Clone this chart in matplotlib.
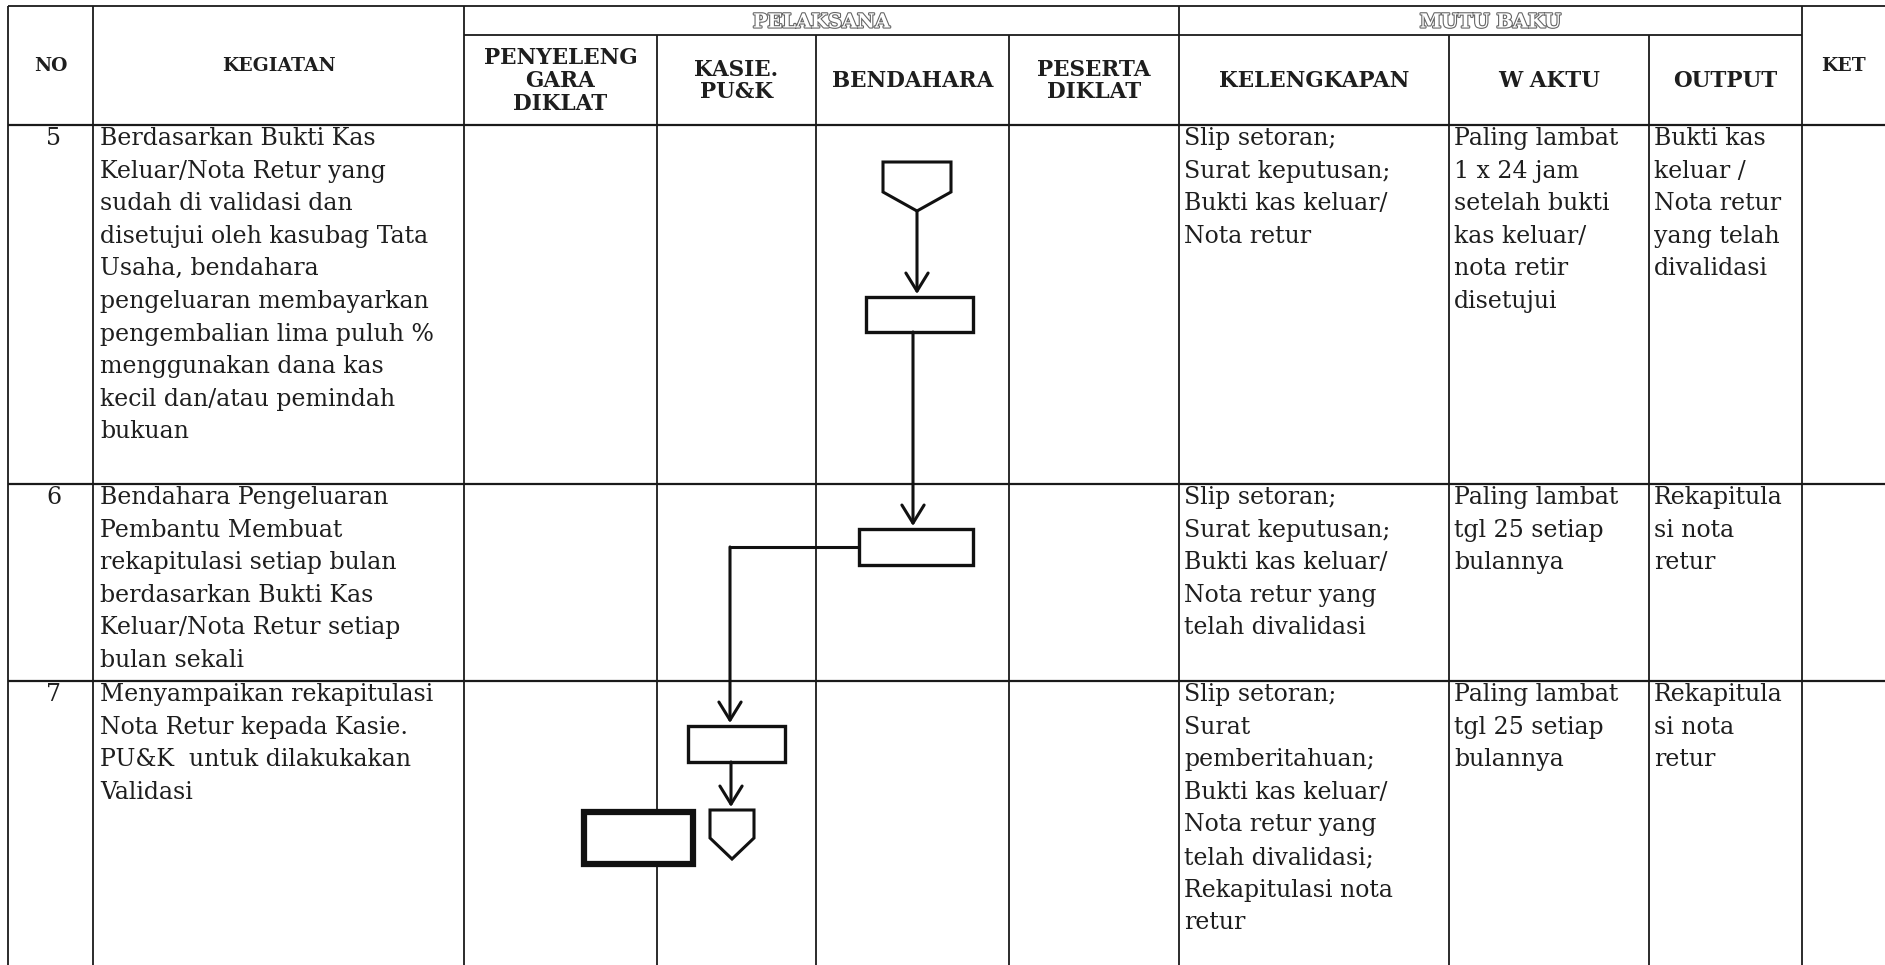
import matplotlib
matplotlib.use('Agg')
import matplotlib.pyplot as plt
import matplotlib.patheffects as pe
from matplotlib.patches import Polygon, Rectangle

# ---- table content ----
group_labels = ['PELAKSANA', 'MUTU BAKU']
header_labels = [['NO'], ['KEGIATAN'], ['PENYELENG', 'GARA', 'DIKLAT'], ['KASIE.', 'PU&K'],
                 ['BENDAHARA'], ['PESERTA', 'DIKLAT'], ['KELENGKAPAN'], ['W AKTU'],
                 ['OUTPUT'], ['KET']]
row_numbers = ['5', '6', '7']
kegiatan = [
    ['Berdasarkan Bukti Kas', 'Keluar/Nota Retur yang', 'sudah di validasi dan',
     'disetujui oleh kasubag Tata', 'Usaha, bendahara', 'pengeluaran membayarkan',
     'pengembalian lima puluh %', 'menggunakan dana kas', 'kecil dan/atau pemindah',
     'bukuan'],
    ['Bendahara Pengeluaran', 'Pembantu Membuat', 'rekapitulasi setiap bulan',
     'berdasarkan Bukti Kas', 'Keluar/Nota Retur setiap', 'bulan sekali'],
    ['Menyampaikan rekapitulasi', 'Nota Retur kepada Kasie.', 'PU&K  untuk dilakukakan',
     'Validasi'],
]
kelengkapan = [
    ['Slip setoran;', 'Surat keputusan;', 'Bukti kas keluar/', 'Nota retur'],
    ['Slip setoran;', 'Surat keputusan;', 'Bukti kas keluar/', 'Nota retur yang',
     'telah divalidasi'],
    ['Slip setoran;', 'Surat', 'pemberitahuan;', 'Bukti kas keluar/', 'Nota retur yang',
     'telah divalidasi;', 'Rekapitulasi nota', 'retur'],
]
waktu = [
    ['Paling lambat', '1 x 24 jam', 'setelah bukti', 'kas keluar/', 'nota retir', 'disetujui'],
    ['Paling lambat', 'tgl 25 setiap', 'bulannya'],
    ['Paling lambat', 'tgl 25 setiap', 'bulannya'],
]
output = [
    ['Bukti kas', 'keluar /', 'Nota retur', 'yang telah', 'divalidasi'],
    ['Rekapitula', 'si nota', 'retur'],
    ['Rekapitula', 'si nota', 'retur'],
]

# ---- layout (pixels of the scanned page) ----
W, H = 1885, 965
col_x = [8, 93, 464, 657, 816, 1009, 1179, 1449, 1649, 1802, W]
top_y, group_y, head_y = 6, 35, 125
row_y = [125, 484, 681, H]
pitch = 32.6
lc = '#1a1a1a'
tc = '#1e1e1e'
body = dict(family='DejaVu Serif', fontsize=17, color=tc, va='center')
head = dict(family='DejaVu Serif', fontweight='bold', color=tc, ha='center', va='center')

fig = plt.figure(figsize=(W / 100, H / 100), dpi=100)
ax = fig.add_axes([0, 0, 1, 1])
ax.set_xlim(0, W)
ax.set_ylim(H, 0)
ax.axis('off')


def hline(y, x0, x1, lw=1.3):
    ax.plot([x0, x1], [y, y], color=lc, lw=lw, solid_capstyle='butt')


def vline(x, y0, y1, lw=1.3):
    ax.plot([x, x], [y0, y1], color=lc, lw=lw, solid_capstyle='butt')


# grid
hline(top_y, col_x[0], W)
hline(group_y, col_x[2], col_x[9])
for y in row_y[:-1]:
    hline(y, col_x[0], W, lw=1.6)
for i, x in enumerate(col_x[:-1]):
    vline(x, group_y if i in (3, 4, 5, 7, 8) else top_y, H)

# group headers (hollow letters)
for lab, (a, b) in zip(group_labels, [(2, 6), (6, 9)]):
    ax.text((col_x[a] + col_x[b]) / 2, (top_y + group_y) / 2 + 2, lab,
            family='DejaVu Serif', fontsize=14, fontweight='bold', color='white',
            ha='center', va='center',
            path_effects=[pe.withStroke(linewidth=1.6, foreground='#666666')])

# column headers
for i, lines in enumerate(header_labels):
    cx = (col_x[i] + col_x[i + 1]) / 2
    sub = i in range(2, 9)
    cy = (group_y + head_y) / 2 + 1 if sub else 66
    n = len(lines)
    for k, s in enumerate(lines):
        ax.text(cx, cy + (k - (n - 1) / 2) * 23, s, fontsize=15.5 if sub else 13.5, **head)

# body rows
cols = [(1, kegiatan), (6, kelengkapan), (7, waktu), (8, output)]
for r in range(3):
    y0 = row_y[r] + 13.5
    ax.text((col_x[0] + col_x[1]) / 2 + 3, y0, row_numbers[r], ha='center', **body)
    for c, data in cols:
        for k, s in enumerate(data[r]):
            ax.text(col_x[c] + (7 if c == 1 else 5), y0 + k * pitch, s, ha='left', **body)

# ---- flowchart ----
fc = '#111111'


def arrow(x0, y0, x1, y1):
    ax.annotate('', xy=(x1, y1), xytext=(x0, y0),
                arrowprops=dict(arrowstyle='->,head_length=0.65,head_width=0.4',
                                color=fc, lw=2.2, shrinkA=0, shrinkB=0,
                                mutation_scale=20))


def box(x0, y0, x1, y1, lw=2.4):
    ax.add_patch(Rectangle((x0, y0), x1 - x0, y1 - y0, facecolor='white',
                           edgecolor=fc, lw=lw, zorder=3))


def connector(x0, x1, y0, y1, ytip):
    cx = (x0 + x1) / 2
    ax.add_patch(Polygon([(x0, y0), (x1, y0), (x1, y1), (cx, ytip), (x0, y1)],
                         closed=True, fill=False, edgecolor=fc, lw=2.2))


connector(883, 951, 162, 192, 211)
arrow(917, 211, 917, 294)
box(866, 297, 973, 332)
arrow(913, 332, 913, 526)
box(859, 529, 973, 565)
ax.plot([859, 730], [547, 547], color=fc, lw=2.2)
arrow(730, 547, 730, 723)
box(688, 726, 785, 762)
arrow(731, 762, 731, 807)
connector(710, 754, 810, 838, 859)
box(584, 812, 693, 864, lw=4.5)

fig.savefig('out.png', dpi=100, facecolor='white')
